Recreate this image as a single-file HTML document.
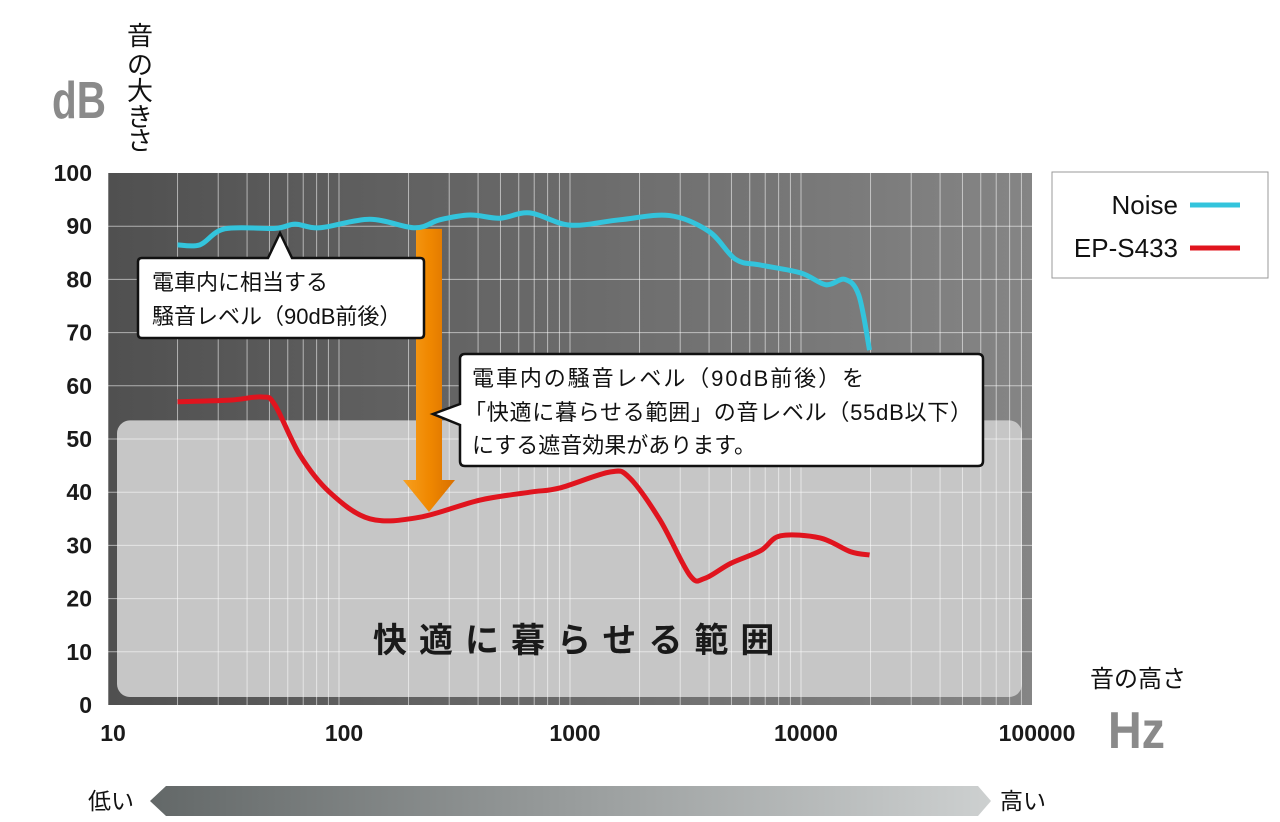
<!DOCTYPE html>
<html><head><meta charset="utf-8"><style>
body{margin:0;background:#fff;width:1280px;height:822px;overflow:hidden;font-family:"Liberation Sans","Noto Sans CJK JP",sans-serif}
svg{position:absolute;left:0;top:0}
</style></head><body>
<svg id="c" width="1280" height="822">
<defs>
<linearGradient id="bg" x1="0" x2="1"><stop offset="0" stop-color="#505050"/><stop offset="1" stop-color="#858585"/></linearGradient>
<linearGradient id="ar" x1="0" x2="1"><stop offset="0" stop-color="#636868"/><stop offset="1" stop-color="#cdd0d0"/></linearGradient>
<linearGradient id="or" x1="0" x2="1"><stop offset="0" stop-color="#f7a020"/><stop offset="0.5" stop-color="#f08800"/><stop offset="1" stop-color="#d87000"/></linearGradient>
</defs>
</svg>
<script>
const yTicks=[0,10,20,30,40,50,60,70,80,90,100];
const xTicks=[10,100,1000,10000,100000];
const xTickLabels=["10","100","1000","10000","100000"];
const noiseFreq=[20,25,32,53,64.5,82.6,136,213,273,369,497,670,1000,1640,2700,4000,5200,6680,10000,12800,15500,17800,19800];
const noiseDb=[86.5,86.5,89.5,89.6,90.4,89.7,91.3,89.7,91.2,92.1,91.5,92.5,90.2,91.2,92,89,83.8,82.7,81.2,79,80,77,66.7];
const epFreq=[20,33.7,46.4,52.8,67.7,91,136,224,406,670,904,1490,1810,2450,3300,3830,4950,6680,8150,12100,16400,19800];
const epDb=[57,57.3,57.9,56.4,47,40,35,35.3,38.5,40,40.8,43.8,42.7,34.8,24.4,23.8,26.6,29,31.8,31.4,28.8,28.2];
const comfortMax=53.5;

const X0=108,X1=1032,Y0=705,Y1=173;
const xs=f=>X0+(Math.log10(f)-1)*(X1-X0)/4;
const ys=v=>Y0-v*(Y0-Y1)/100;
const svg=document.getElementById('c');
const NS='http://www.w3.org/2000/svg';
function mk(t,a,p){const e=document.createElementNS(NS,t);for(const k in a)e.setAttribute(k,a[k]);(p||svg).appendChild(e);return e;}

const bgr=mk('rect',{x:X0,y:Y1,width:X1-X0,height:Y0-Y1,fill:'url(#bg)'});


const cz=mk('rect',{x:117,y:ys(comfortMax),width:905,height:ys(0)-8-ys(comfortMax),rx:13,fill:'#c6c6c6'});


const g=mk('g',{stroke:'rgba(255,255,255,0.55)','stroke-width':1});


for(let d=10;d<100000;d*=10)for(let m=1;m<10;m++){const x=xs(d*m);mk('line',{x1:x,x2:x,y1:Y1,y2:Y0},g);}
yTicks.forEach(v=>{if(v>0&&v<100)mk('line',{x1:X0,x2:X1,y1:ys(v),y2:ys(v)},g);});
yTicks.forEach(v=>{const t=mk('text',{x:92,y:ys(v)+8,'text-anchor':'end','font-size':23,'font-weight':'bold',fill:'#1a1a1a'});t.textContent=v;

});
xTicks.forEach((f,i)=>{const t=mk('text',{x:xs(f)+5,y:741,'text-anchor':'middle','font-size':23,'font-weight':'bold',fill:'#1a1a1a'});t.textContent=xTickLabels[i];

});
function path(fr,db){const p=fr.map((f,i)=>[xs(f),ys(db[i])]);let d='M'+p[0];for(let i=0;i<p.length-1;i++){const a=p[i-1]||p[i],b=p[i],c=p[i+1],e=p[i+2]||c;d+=` C${b[0]+(c[0]-a[0])/6},${b[1]+(c[1]-a[1])/6} ${c[0]-(e[0]-b[0])/6},${c[1]-(e[1]-b[1])/6} ${c[0]},${c[1]}`;}return d;}
const oa=mk('path',{d:`M416,${ys(89.5)} L442,${ys(89.5)} L442,480 L455,480 L429,512 L403,480 L416,480 Z`,fill:'url(#or)'});


const nl=mk('path',{d:path(noiseFreq,noiseDb),fill:'none',stroke:'#33c4dc','stroke-width':5,'stroke-linejoin':'round'});


const el=mk('path',{d:path(epFreq,epDb),fill:'none',stroke:'#e0141e','stroke-width':5,'stroke-linejoin':'round'});


</script>
<svg width="1280" height="822" style="pointer-events:none">
<g>
<path d="M142,258 H268 L280,233 L292,258 H420 Q424,258 424,262 V334 Q424,338 420,338 H142 Q138,338 138,334 V262 Q138,258 142,258Z" fill="#fff" stroke="#111" stroke-width="2.5"/>
<text x="152" y="290" font-size="22" fill="#111">電車内に相当する</text>
<text x="152" y="324" font-size="22" fill="#111">騒音レベル（90dB前後）</text>
</g>
<g>
<path d="M465,354 H978 Q983,354 983,359 V461 Q983,466 978,466 H465 Q460,466 460,461 V425 L433,414 L460,404 V359 Q460,354 465,354Z" fill="#fff" stroke="#111" stroke-width="2.5"/>
<text x="472" y="386" font-size="22" fill="#111" textLength="392">電車内の騒音レベル（90dB前後）を</text>
<text x="464" y="420" font-size="22" fill="#111" textLength="508">「快適に暮らせる範囲」の音レベル（55dB以下）</text>
<text x="472" y="453" font-size="22" fill="#111">にする遮音効果があります。</text>
</g>
<text x="373" y="652" font-size="34" letter-spacing="12" fill="#1a1a1a" font-weight="bold">快適に暮らせる範囲</text>
<g>
<rect x="1052" y="172" width="216" height="106" fill="#fff" stroke="#999" stroke-width="1"/>
<text x="1178" y="214" text-anchor="end" font-size="26" fill="#111">Noise</text>
<line x1="1190" x2="1240" y1="205" y2="205" stroke="#33c4dc" stroke-width="5"/>
<text x="1178" y="257" text-anchor="end" font-size="26" fill="#111">EP-S433</text>
<line x1="1190" x2="1240" y1="248" y2="248" stroke="#e0141e" stroke-width="5"/>
</g>
<text x="52" y="118" font-size="52" font-weight="bold" fill="#8a8a8a" textLength="54" lengthAdjust="spacingAndGlyphs">dB</text>
<g font-size="26" fill="#111">
<text x="127" y="45">音</text><text x="127" y="74">の</text><text x="127" y="100">大</text><text x="127" y="126">き</text><text x="127" y="150">さ</text>
</g>
<text x="1090" y="687" font-size="24" fill="#111">音の高さ</text>
<text x="1108" y="748" font-size="52" font-weight="bold" fill="#8a8a8a" textLength="57" lengthAdjust="spacingAndGlyphs">Hz</text>
<path d="M150,801 L166,786 H978 L991,801 L978,816 H166 Z" fill="url(#ar)"/>
<text x="88" y="809" font-size="23" fill="#111">低い</text>
<text x="1000" y="809" font-size="23" fill="#111">高い</text>
</svg>
</body></html>
